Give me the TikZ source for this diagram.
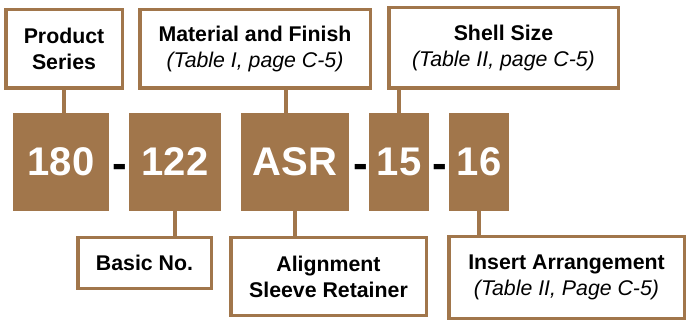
\documentclass[tikz,border=0pt]{standalone}
\usepackage{fontspec}
\setmainfont{Liberation Sans}
\definecolor{bronze}{RGB}{161,118,75}
\tikzstyle{codebox}=[fill=bronze,text=white,inner sep=0pt,minimum height=98pt,font=\fontsize{40}{46}\selectfont\bfseries]
\tikzstyle{labelbox}=[draw=bronze,fill=white,line width=3.5pt,inner sep=0pt,align=center,font=\fontsize{21.3}{26}\selectfont\bfseries]
\tikzstyle{joint}=[draw=bronze,line width=4pt]
\tikzstyle{hyphen}=[inner sep=0pt,anchor=base,font=\fontsize{44}{48}\selectfont\bfseries]

\begin{document}
\begin{tikzpicture}[x=1pt,y=-1pt]  % part number breakdown
\useasboundingbox (0,0) rectangle (687,328);

\node[codebox,minimum width=96pt] (c180) at (61,162) {180};
\node[codebox,minimum width=92pt] (c122) at (175,162) {122};
\node[codebox,minimum width=108pt] (casr) at (295,162) {ASR};
\node[codebox,minimum width=60pt] (c15) at (399,162) {15};
\node[codebox,minimum width=60pt] (c16) at (479,162) {16};

\node[hyphen] (d1) at (120,179) {-};
\node[hyphen] (d2) at (360.5,179) {-};
\node[hyphen] (d3) at (440,179) {-};

\node[labelbox,minimum width=116.5pt,minimum height=78.5pt] (series) at (64,49) {Product\\Series};
\node[labelbox,minimum width=230.5pt,minimum height=78.5pt] (finish) at (255,49)
      {Material and Finish\\{\mdseries\itshape (Table I, page C-5)}};
\node[labelbox,minimum width=229.5pt,minimum height=80.5pt] (shell) at (503.5,48)
      {Shell Size\\{\mdseries\itshape (Table II, page C-5)}};
\node[labelbox,minimum width=133.5pt,minimum height=50.5pt] (basic) at (144.5,263) {Basic No.};
\node[labelbox,minimum width=195.5pt,minimum height=77.5pt] (sleeve) at (328.5,276.5) {Alignment\\Sleeve Retainer};
\node[labelbox,minimum width=235.5pt,minimum height=81.5pt] (insert) at (566.5,277.5)
      {Insert Arrangement\\{\mdseries\itshape (Table II, Page C-5)}};

\draw[joint] (series.south) -- (series.south |- c180.north);
\draw[joint] (casr.100) -- (casr.100 |- finish.south);
\draw[joint] (c15.north) -- (c15.north |- shell.south);
\draw[joint] (c122.south) -- (c122.south |- basic.north);
\draw[joint] (casr.south) -- (casr.south |- sleeve.north);
\draw[joint] (c16.south) -- (c16.south |- insert.north);
\end{tikzpicture}
\end{document}
